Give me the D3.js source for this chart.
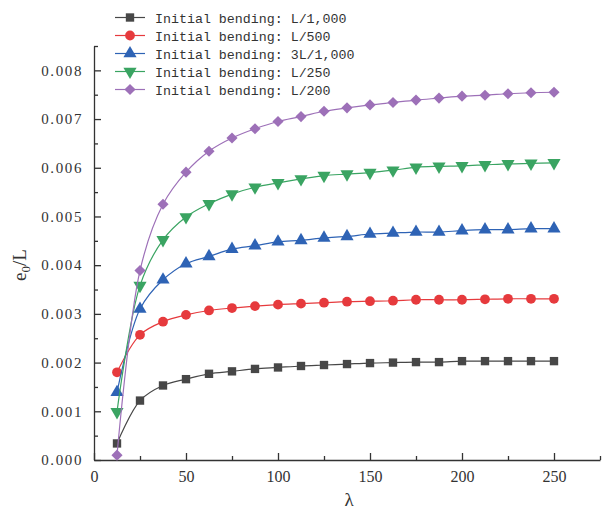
<!DOCTYPE html>
<html lang="en">
<head>
  <meta charset="utf-8">
  <title>e0/L vs slenderness</title>
  <script src="https://d3js.org/d3.v7.min.js"></script>
  <style>
    body { margin: 0; background: #fff; }
    .tick text { fill: #333; }
  </style>
</head>
<body>
<script>

// slenderness values (12.5 step)
var lambda = [12.5, 25, 37.5, 50, 62.5, 75, 87.5, 100, 112.5, 125,
              137.5, 150, 162.5, 175, 187.5, 200, 212.5, 225, 237.5, 250];

// e0/L for each initial bending
var bendL1000 = [0.00034, 0.00122, 0.00153, 0.00166, 0.00177, 0.00182, 0.00187, 0.00190, 0.00193, 0.00195,
                 0.00197, 0.00199, 0.00200, 0.00201, 0.00201, 0.00203, 0.00203, 0.00203, 0.00203, 0.00203];
var bendL500  = [0.00180, 0.00257, 0.00284, 0.00298, 0.00307, 0.00312, 0.00316, 0.00319, 0.00321, 0.00323,
                 0.00325, 0.00326, 0.00327, 0.00329, 0.00329, 0.00329, 0.00330, 0.00331, 0.00331, 0.00331];
var bend3L1000 = [0.00139, 0.00310, 0.00370, 0.00403, 0.00418, 0.00433, 0.00440, 0.00448, 0.00451, 0.00456,
                  0.00459, 0.00464, 0.00466, 0.00468, 0.00468, 0.00471, 0.00473, 0.00473, 0.00475, 0.00475];
var bendL250  = [0.00099, 0.00358, 0.00452, 0.00499, 0.00526, 0.00546, 0.00560, 0.00569, 0.00577, 0.00584,
                 0.00587, 0.00590, 0.00595, 0.00601, 0.00603, 0.00604, 0.00606, 0.00608, 0.00609, 0.00610];
var bendL200  = [0.00010, 0.00389, 0.00525, 0.00591, 0.00634, 0.00661, 0.00680, 0.00695, 0.00705, 0.00716,
                 0.00723, 0.00729, 0.00734, 0.00739, 0.00743, 0.00747, 0.00749, 0.00752, 0.00754, 0.00755];

var seriesNames = ["Initial bending: L/1,000", "Initial bending: L/500", "Initial bending: 3L/1,000",
                   "Initial bending: L/250", "Initial bending: L/200"];
var seriesValues = [bendL1000, bendL500, bend3L1000, bendL250, bendL200];
var seriesColors = ["#474747", "#e63a3d", "#2e63b5", "#3aa462", "#9d70b8"];
// diamond = square turned 45 degrees, down triangle = triangle turned 180
var seriesSymbols = [d3.symbolSquare, d3.symbolCircle, d3.symbolTriangle, d3.symbolTriangle, d3.symbolSquare];
var symbolSizes = [70, 75, 75, 75, 62];
var symbolRotate = [0, 0, 0, 180, 45];

var xTicks = [0, 50, 100, 150, 200, 250];
var yTicks = [0, 0.001, 0.002, 0.003, 0.004, 0.005, 0.006, 0.007, 0.008];

var width = 608, height = 512;
var svg = d3.select("body").append("svg")
  .attr("width", width)
  .attr("height", height);

var x = d3.scaleLinear().domain([0, 275]).range([94, 600]);
var y = d3.scaleLinear().domain([0, 0.0085]).range([460, 46]);

// minor ticks first, no labels
svg.append("g")
  .attr("transform", "translate(0,460)")
  .call(d3.axisBottom(x).tickValues(d3.range(25, 276, 50)).tickSize(-4).tickFormat(""))
  .call(function(g) { g.select(".domain").remove(); });
svg.append("g")
  .attr("transform", "translate(94,0)")
  .call(d3.axisLeft(y).tickValues(d3.range(0.0005, 0.0086, 0.001)).tickSize(-4).tickFormat(""))
  .call(function(g) { g.select(".domain").remove(); });

var xAxis = svg.append("g")
  .attr("transform", "translate(0,460)")
  .call(d3.axisBottom(x).tickValues(xTicks).tickSize(-7).tickSizeOuter(0).tickPadding(11).tickFormat(d3.format("d")));
xAxis.selectAll("text")
  .attr("font-family", "Liberation Serif, serif")
  .attr("font-size", "16px");

var yAxis = svg.append("g")
  .attr("transform", "translate(94,0)")
  .call(d3.axisLeft(y).tickValues(yTicks).tickSize(-7).tickSizeOuter(0).tickPadding(11).tickFormat(d3.format(".3f")));
yAxis.selectAll("text")
  .attr("font-family", "Liberation Serif, serif")
  .attr("font-size", "15px")
  .attr("letter-spacing", "1.6px");

svg.selectAll(".domain, .tick line")
  .attr("stroke", "#333")
  .attr("stroke-width", 1.3);

// curves
var line = d3.line()
  .x(function(d, i) { return x(lambda[i]); })
  .y(function(d) { return y(d); })
  .curve(d3.curveCatmullRom);

seriesValues.forEach(function(vals, s) {
  svg.append("path")
    .datum(vals)
    .attr("d", line)
    .attr("fill", "none")
    .attr("stroke", seriesColors[s])
    .attr("stroke-width", 1.2);

  var sym = d3.symbol().type(seriesSymbols[s]).size(symbolSizes[s]);
  svg.append("g").selectAll("path")
    .data(vals)
    .enter()
    .append("path")
    .attr("d", sym)
    .attr("transform", function(d, i) {
      return "translate(" + x(lambda[i]) + "," + y(d) + ") rotate(" + symbolRotate[s] + ")";
    })
    .attr("fill", seriesColors[s]);
});

// legend
var legend = svg.append("g");
seriesNames.forEach(function(name, s) {
  var ly = 17.5 + s * 18;
  legend.append("line")
    .attr("x1", 115).attr("x2", 145)
    .attr("y1", ly).attr("y2", ly)
    .attr("stroke", seriesColors[s])
    .attr("stroke-width", 1.2);
  legend.append("path")
    .attr("d", d3.symbol().type(seriesSymbols[s]).size(symbolSizes[s]))
    .attr("transform", "translate(130," + ly + ") rotate(" + symbolRotate[s] + ")")
    .attr("fill", seriesColors[s]);
  legend.append("text")
    .attr("x", 155)
    .attr("y", ly + 5)
    .attr("font-family", "Liberation Mono, monospace")
    .attr("font-size", "13.3px")
    .attr("fill", "#333")
    .text(name);
});

// axis titles
var yTitle = svg.append("text")
  .attr("transform", "translate(26,265) rotate(-90)")
  .attr("text-anchor", "middle")
  .attr("font-family", "Liberation Serif, serif")
  .attr("font-size", "19px")
  .attr("fill", "#333");
yTitle.append("tspan").text("e");
yTitle.append("tspan").attr("font-size", "13px").attr("dy", 4).text("0");
yTitle.append("tspan").attr("dy", -4).text("/L");

svg.append("text")
  .attr("x", 349)
  .attr("y", 506)
  .attr("text-anchor", "middle")
  .attr("font-family", "Liberation Serif, serif")
  .attr("font-size", "19px")
  .attr("fill", "#333")
  .text("λ");

</script>
</body>
</html>
